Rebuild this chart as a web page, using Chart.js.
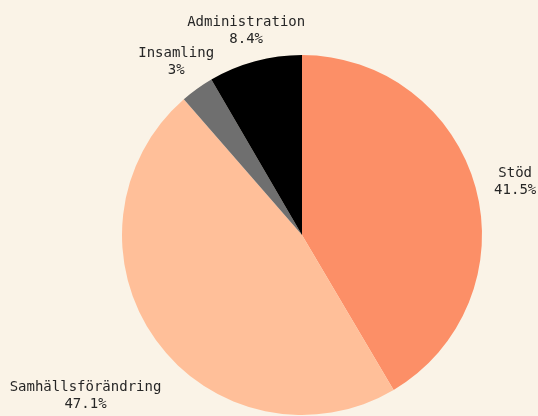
<!DOCTYPE html>
<html>
<head>
<meta charset="utf-8">
<script src="https://cdn.jsdelivr.net/npm/chart.js@4"></script>
<style>
  html, body { margin: 0; padding: 0; background: #faf3e7; }
  canvas { display: block; }
</style>
</head>
<body>
<canvas id="pieChart" width="538" height="416"></canvas>
<script>
const labels = ['Stöd', 'Samhällsförändring', 'Insamling', 'Administration'];
const shares = [41.5, 47.1, 3, 8.4];
const shareText = ['41.5%', '47.1%', '3%', '8.4%'];
const colors = ['#fc8f67', '#ffbf99', '#6f6f6f', '#000000'];

// labels sit outside the pie, offset from the rim per slice
const outsideLabels = {
  id: 'outsideLabels',
  afterDraw(chart, args, opts) {
    const c = chart.ctx;
    const arcs = chart.getDatasetMeta(0).data;
    c.save();
    c.font = '14px "DejaVu Sans Mono", "Liberation Mono", monospace';
    c.fillStyle = '#262626';
    c.textAlign = 'center';
    c.textBaseline = 'middle';
    arcs.forEach((arc, i) => {
      const mid = (arc.startAngle + arc.endAngle) / 2;
      const d = arc.outerRadius + opts.gaps[i];
      const x = arc.x + Math.cos(mid) * d;
      const y = arc.y + Math.sin(mid) * d + opts.shift[i];
      c.fillText(labels[i], x, y - 8.5);
      c.fillText(shareText[i], x, y + 8.5);
    });
    c.restore();
  }
};

new Chart(document.getElementById('pieChart'), {
  type: 'pie',
  data: {
    labels,
    datasets: [{
      data: shares,
      backgroundColor: colors,
      borderWidth: 0,
      hoverOffset: 0
    }]
  },
  options: {
    responsive: false,
    animation: false,
    layout: { padding: { left: 86, right: 20, top: 55, bottom: 1 } },
    plugins: {
      legend: { display: false },
      tooltip: { enabled: false },
      outsideLabels: { gaps: [41, 87, 36, 34], shift: [5, 5, 2.5, 2] }
    }
  },
  plugins: [outsideLabels]
});
</script>
</body>
</html>
